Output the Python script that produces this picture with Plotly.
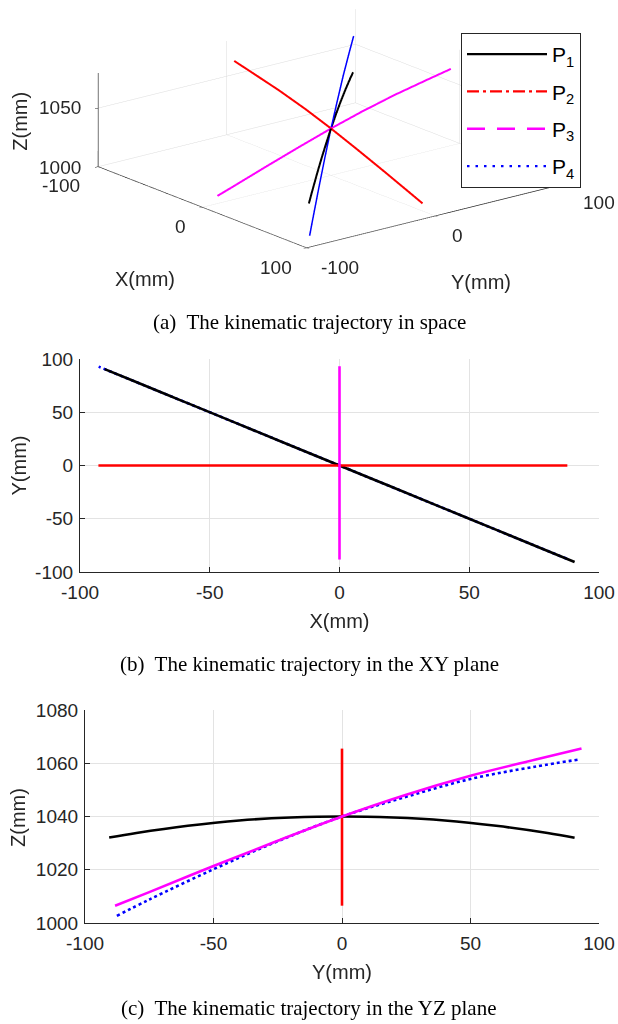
import plotly.graph_objects as go

# ---------------- data ----------------
P1_X = [90.6, 80, 60, 40, 20, 0, -20, -40, -60, -80, -90.5]
P1_Y = [-90.6, -80, -60, -40, -20, 0, 20, 40, 60, 80, 90.5]
P1_Z = [1032.1, 1033.8, 1036.5, 1038.5, 1039.6, 1040.0, 1039.6, 1038.5, 1036.5, 1033.8, 1032.0]

P2_X = [-92.9, -75, -50, -25, 0, 25, 50, 75, 87.8]
P2_Y = [0, 0, 0, 0, 0, 0, 0, 0, 0]
P2_Z = [1065.5, 1061.3, 1055.3, 1048.2, 1040.0, 1030.9, 1021.4, 1011.6, 1006.5]

P3_X = [0, 0, 0, 0, 0, 0, 0, 0, 0]
P3_Y = [-88.3, -75, -50, -25, 0, 25, 50, 75, 93.2]
P3_Z = [1006.5, 1011.6, 1021.4, 1030.9, 1040.0, 1048.2, 1055.3, 1061.3, 1065.5]

P4_X = [87.6, 75, 50, 25, 0, -25, -50, -75, -92.8]
P4_Y = [-87.6, -75, -50, -25, 0, 25, 50, 75, 92.8]
P4_Z = [1002.7, 1008.8, 1020.2, 1030.7, 1040.0, 1047.4, 1054.1, 1058.7, 1061.5]

NAMES = ["P<sub>1</sub>", "P<sub>2</sub>", "P<sub>3</sub>", "P<sub>4</sub>"]
COLORS = ["#000000", "#ff0000", "#ff00ff", "#0000ff"]
LEGEND_DASH = ["solid", "12px,4px,3px,4px", "18px,12px", "2.5px,6px"]
PLOT_DASH = ["solid", "solid", "solid", "dot"]

XY_TICKS = [-100, -50, 0, 50, 100]
XY_TICKTEXT = ["-100", "-50", "0", "50", "100"]
Z_TICKS = [1000, 1020, 1040, 1060, 1080]
Z_TICKTEXT = ["1000", "1020", "1040", "1060", "1080"]
S3_TICKS = [-100, 0, 100]
S3_TICKTEXT = ["-100", "0", "100"]
S3_ZTICKS = [1000, 1050]
S3_ZTICKTEXT = ["1000", "1050"]

CAPTIONS = ["(a)&nbsp; The kinematic trajectory in space",
            "(b)&nbsp; The kinematic trajectory in the XY plane",
            "(c)&nbsp; The kinematic trajectory in the YZ plane"]

series = [(P1_X, P1_Y, P1_Z), (P2_X, P2_Y, P2_Z), (P3_X, P3_Y, P3_Z), (P4_X, P4_Y, P4_Z)]

W, H = 618, 1024
SANS = "Liberation Sans"
SERIF = "Liberation Serif"
AX = "#262626"
GRID = "#e3e3e3"

fig = go.Figure()

# 3D traces
for i in [3, 0, 1, 2]:
    X, Y, Z = series[i]
    fig.add_trace(go.Scatter3d(x=X, y=Y, z=Z, mode="lines", scene="scene",
                               line=dict(color=COLORS[i], width=4 if i != 3 else 3),
                               showlegend=False, hoverinfo="skip"))

# XY plane traces
for i in [3, 0, 1, 2]:
    X, Y, Z = series[i]
    fig.add_trace(go.Scatter(x=X, y=Y, mode="lines", xaxis="x", yaxis="y",
                             line=dict(color=COLORS[i], width=2.6, dash=PLOT_DASH[i], shape="spline"),
                             showlegend=False, hoverinfo="skip"))

# YZ plane traces
for i in [3, 0, 1, 2]:
    X, Y, Z = series[i]
    fig.add_trace(go.Scatter(x=Y, y=Z, mode="lines", xaxis="x2", yaxis="y2",
                             line=dict(color=COLORS[i], width=2.6, dash=PLOT_DASH[i], shape="spline"),
                             showlegend=False, hoverinfo="skip"))

# legend entries (styles as in the reference legend)
for i in range(4):
    fig.add_trace(go.Scatter(x=[None], y=[None], mode="lines", xaxis="x", yaxis="y",
                             name=NAMES[i], legendgroup="g%d" % i,
                             line=dict(color=COLORS[i], width=2.3, dash=LEGEND_DASH[i])))


def px_x(v):
    return v / W


def px_y(v):
    return 1 - v / H


# screen projection of the 3D box for the chosen orthographic camera (pixels)
def proj(X, Y, Z):
    sx = 331 + 1.0615 * X + 1.3115 * Y
    sy = 128.4 + 0.4135 * X - 0.325 * Y - 1.1925 * (Z - 1040)
    return sx, sy


axis3d = dict(showbackground=False, gridcolor="#dcdcdc", gridwidth=1,
              showline=True, linecolor=AX, linewidth=1.5,
              ticks="outside", tickcolor=AX, ticklen=4,
              zeroline=False, showspikes=False, showticklabels=False,
              title=dict(text=""))


def ax2d(domain, anchor, rng, tickvals, ticktext, title, standoff, lstand):
    return dict(domain=domain, anchor=anchor, range=rng, automargin=False,
                tickvals=tickvals, ticktext=ticktext, showgrid=True, gridcolor=GRID,
                zeroline=False, showline=True, linecolor=AX, linewidth=1.2,
                ticks="inside", ticklen=5, tickcolor=AX, ticklabelstandoff=lstand,
                tickfont=dict(family=SANS, size=19, color=AX),
                title=dict(text=title, font=dict(family=SANS, size=20, color=AX), standoff=standoff))


S = 2.6
fig.update_layout(
    width=W, height=H,
    margin=dict(l=0, r=0, t=0, b=0, autoexpand=False),
    paper_bgcolor="white", plot_bgcolor="white",
    showlegend=True,
    legend=dict(x=px_x(461), y=px_y(33), xanchor="left", yanchor="top",
                bordercolor=AX, borderwidth=1, bgcolor="white",
                font=dict(family=SANS, size=21, color="black"),
                itemwidth=80, traceorder="grouped", tracegroupgap=7),
    scene=dict(
        domain=dict(x=[px_x(61), px_x(601)], y=[px_y(256.8), 1.0]),
        xaxis=dict(axis3d, range=[-100, 100], tickvals=S3_TICKS),
        yaxis=dict(axis3d, range=[-100, 100], tickvals=S3_TICKS),
        zaxis=dict(axis3d, range=[1000, 1080], tickvals=S3_ZTICKS),
        aspectmode="manual", aspectratio=dict(x=1.0 * S, y=0.985 * S, z=0.295 * S),
        camera=dict(projection=dict(type="orthographic"),
                    eye=dict(x=0.743 * 2, y=-0.593 * 2, z=0.311 * 2),
                    up=dict(x=0, y=0, z=1), center=dict(x=0, y=0, z=0)),
        bgcolor="white",
    ),
    xaxis=ax2d([px_x(80), px_x(599)], "y", [-100, 100], XY_TICKS, XY_TICKTEXT, "X(mm)", 12, 3),
    yaxis=ax2d([px_y(572), px_y(359)], "x", [-100, 100], XY_TICKS, XY_TICKTEXT, "", 4, 2),
    xaxis2=ax2d([px_x(85), px_x(599)], "y2", [-100, 100], XY_TICKS, XY_TICKTEXT, "Y(mm)", 12, 3),
    yaxis2=ax2d([px_y(923), px_y(710)], "x2", [1000, 1080], Z_TICKS, Z_TICKTEXT, "", 3, 2),
)


def label(text, sx, sy, xanchor="center", size=19, angle=0):
    fig.add_annotation(text=text, xref="paper", yref="paper", x=px_x(sx), y=px_y(sy),
                       xanchor=xanchor, yanchor="middle", showarrow=False, textangle=angle,
                       font=dict(family=SANS, size=size, color=AX))


# 3D tick labels and axis titles (horizontal text, as in the reference)
for v, t in zip(S3_TICKS, S3_TICKTEXT):
    sx, sy = proj(v, -100, 1000)
    label(t, sx - 12, sy + 18, "right")
for v, t in zip(S3_TICKS, S3_TICKTEXT):
    sx, sy = proj(100, v, 1000)
    label(t, sx + 12.5, sy + 18, "left")
for v, t in zip(S3_ZTICKS, S3_ZTICKTEXT):
    sx, sy = proj(-100, -100, v)
    label(t, sx - 10.5, sy, "right")
sx, sy = proj(0, -100, 1000)
label("X(mm)", sx - 55, sy + 70, size=20)
sx, sy = proj(100, 0, 1000)
label("Y(mm)", sx + 44, sy + 65, size=20)
sx, sy = proj(-100, -100, 1040)
label("Z(mm)", sx - 74, sy + 1.5, size=20, angle=-90)

# vertical titles of the two plane views
label("Y(mm)", 18, 465.5, size=20, angle=-90)
label("Z(mm)", 18, 818, size=20, angle=-90)

for txt, yc in zip(CAPTIONS, [322, 664, 1008]):
    fig.add_annotation(text=txt, xref="paper", yref="paper", x=0.5, y=px_y(yc),
                       xanchor="center", yanchor="middle", showarrow=False,
                       font=dict(family=SERIF, size=21, color="black"))

fig.write_html("out.html")
